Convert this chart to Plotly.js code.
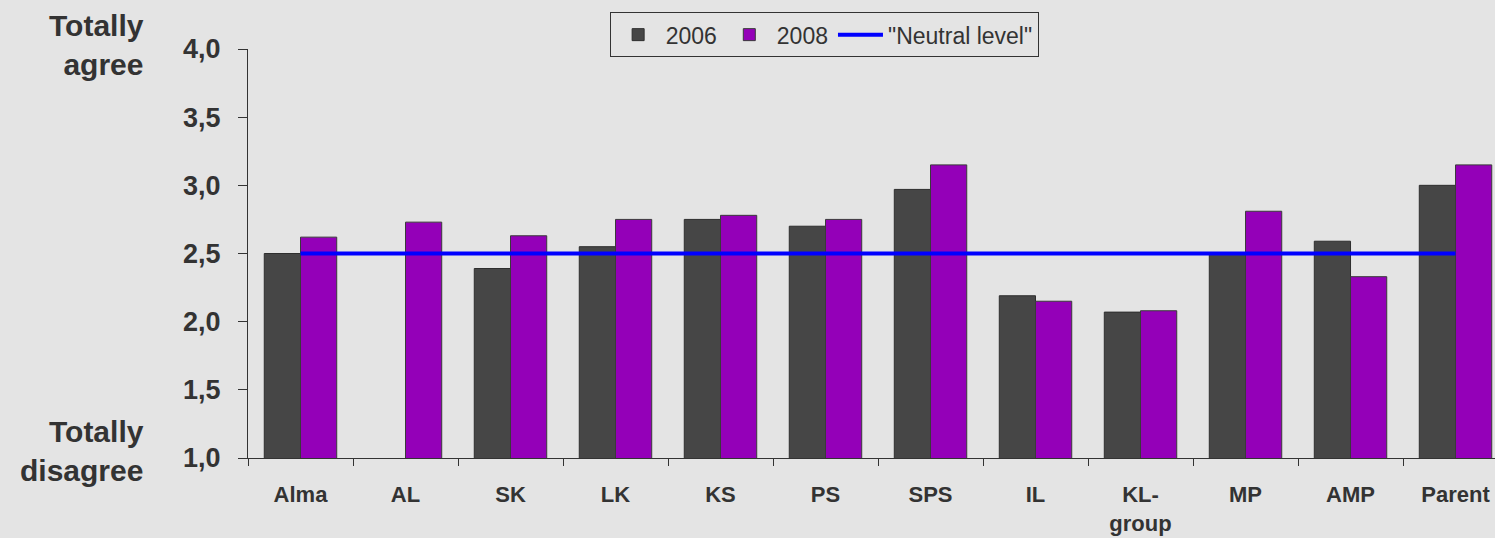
<!DOCTYPE html>
<html>
<head>
<meta charset="utf-8">
<script src="https://cdn.plot.ly/plotly-3.0.1.min.js"></script>
<style>html,body{margin:0;padding:0;background:#e4e4e4;}#chart{width:1495px;height:538px;}</style>
</head>
<body>
<div id="chart"></div>
<script>
var categories = ["Alma", "AL", "SK", "LK", "KS", "PS", "SPS", "IL", "KL-<br>group", "MP", "AMP", "Parent"];
var values2006 = [2.50, null, 2.39, 2.55, 2.75, 2.70, 2.97, 2.19, 2.07, 2.50, 2.59, 3.00];
var values2008 = [2.62, 2.73, 2.63, 2.75, 2.78, 2.75, 3.15, 2.15, 2.08, 2.81, 2.33, 3.15];
var neutralLevel = [2.5, 2.5, 2.5, 2.5, 2.5, 2.5, 2.5, 2.5, 2.5, 2.5, 2.5, 2.5];
var yTicks = [1.0, 1.5, 2.0, 2.5, 3.0, 3.5, 4.0];

var fontFam = "Arial, 'Liberation Sans', sans-serif";
var textCol = "#333333";

var data = [
  {type: "bar", name: "2006", x: categories, y: values2006,
   marker: {color: "#464646", line: {color: "#2e2e2e", width: 1}}},
  {type: "bar", name: "2008", x: categories, y: values2008,
   marker: {color: "#9400b8", line: {color: "#3a3a3a", width: 1}}},
  {type: "scatter", mode: "lines", name: "\"Neutral level\"", x: categories, y: neutralLevel,
   line: {color: "#0000ff", width: 4}}
];

var layout = {
  width: 1495, height: 538,
  margin: {l: 248, r: 0, t: 49, b: 80, pad: 0},
  paper_bgcolor: "#e4e4e4",
  plot_bgcolor: "rgba(0,0,0,0)",
  separators: ",.",
  barmode: "group",
  bargap: 0.31,
  bargroupgap: 0,
  font: {family: fontFam, color: textCol},
  showlegend: true,
  legend: {
    orientation: "h", x: 0.29, xanchor: "left", y: 1.09, yanchor: "top",
    bgcolor: "rgba(0,0,0,0)", bordercolor: "#333333", borderwidth: 1,
    font: {size: 23, color: textCol, family: fontFam},
    traceorder: "normal", itemwidth: 45
  },
  xaxis: {
    type: "category",
    range: [-0.5, 11.376],
    showline: true, linecolor: "#333333", linewidth: 1,
    ticks: "outside", tickson: "boundaries", ticklen: 7, tickcolor: "#333333",
    showgrid: false, zeroline: false,
    tickfont: {size: 22, family: fontFam, color: textCol, weight: "bold"},
    ticklabelstandoff: 17,
    fixedrange: true
  },
  yaxis: {
    range: [1, 4],
    tickvals: yTicks,
    tickformat: ".1f",
    showline: true, linecolor: "#333333", linewidth: 1,
    ticks: "outside", ticklen: 9, tickcolor: "#333333",
    showgrid: false, zeroline: false,
    tickfont: {size: 27, family: fontFam, color: textCol, weight: "bold"},
    ticklabelstandoff: 12,
    fixedrange: true
  },
  annotations: [
    {text: "Totally<br>agree", xref: "paper", yref: "paper", x: -0.0818, y: 1.103,
     xanchor: "right", yanchor: "top", align: "right", showarrow: false,
     font: {size: 30, family: fontFam, color: textCol, weight: "bold"}},
    {text: "Totally<br>disagree", xref: "paper", yref: "paper", x: -0.0818, y: 0.11,
     xanchor: "right", yanchor: "top", align: "right", showarrow: false,
     font: {size: 30, family: fontFam, color: textCol, weight: "bold"}}
  ]
};

Plotly.newPlot("chart", data, layout, {displayModeBar: false, staticPlot: true});
</script>
</body>
</html>
